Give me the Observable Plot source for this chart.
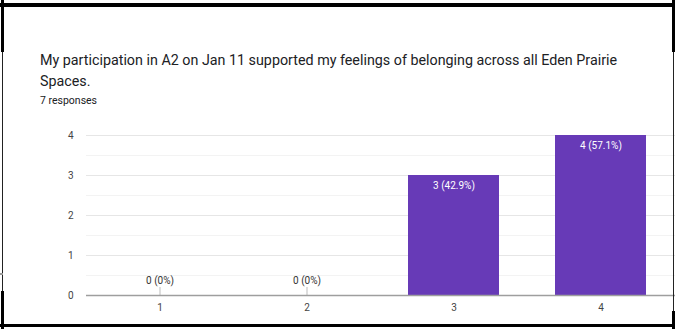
<!DOCTYPE html>
<html>
<head>
<meta charset="utf-8">
<script src="https://cdn.jsdelivr.net/npm/d3@7"></script>
<script src="https://cdn.jsdelivr.net/npm/@observablehq/plot@0.6"></script>
<style>
  html, body { margin: 0; padding: 0; background: #fff; }
  #frame { position: relative; width: 675px; height: 329px; overflow: hidden; background: #fff; font-family: Roboto, "Liberation Sans", sans-serif; }
  .bd { position: absolute; background: #000; }
  #title { position: absolute; left: 40px; top: 50px; width: 610px; font-size: 14.3px; line-height: 21px; color: #202124; }
  #sub { position: absolute; left: 40px; top: 94px; font-size: 10.5px; color: #202124; }
  #chart { position: absolute; left: 0; top: 120px; }
</style>
</head>
<body>
<div id="frame">
  <div id="title"></div>
  <div id="sub"></div>
  <div id="chart"></div>
  <div class="bd" style="left:0;top:3px;width:675px;height:4px"></div>
  <div class="bd" style="left:1px;top:0;width:3px;height:52px"></div>
  <div class="bd" style="left:2px;top:52px;width:1px;height:240px;background:#222"></div>
  <div class="bd" style="left:0;top:273px;width:3px;height:2px;background:#999"></div>
  <div class="bd" style="left:1px;top:291px;width:3px;height:38px"></div>
  <div class="bd" style="left:672px;top:0;width:3px;height:52px"></div>
  <div class="bd" style="left:673px;top:52px;width:1px;height:260px;background:#222"></div>
  <div class="bd" style="left:672px;top:311px;width:3px;height:18px"></div>
  <div class="bd" style="left:0;top:324px;width:675px;height:3px"></div>
</div>
<script>
const titleText = "My participation in A2 on Jan 11 supported my feelings of belonging across all Eden Prairie Spaces.";
const subtitleText = "7 responses";
const categories = ["1", "2", "3", "4"];
const counts = [0, 0, 3, 4];
const yTicks = [0, 1, 2, 3, 4];
const minorTicks = [0.5, 1.5, 2.5, 3.5];

document.getElementById("title").textContent = titleText;
document.getElementById("sub").textContent = subtitleText;

const total = d3.sum(counts);
const data = categories.map((c, i) => ({
  cat: c,
  n: counts[i],
  label: `${counts[i]} (${Math.round(counts[i] / total * 1000) / 10}%)`
}));
const zeros = data.filter(d => d.n === 0);
const nonzero = data.filter(d => d.n > 0);

const chart = Plot.plot({
  width: 675,
  height: 209,
  marginTop: 15,
  marginBottom: 34,
  marginLeft: 86,
  marginRight: 0,
  style: { fontFamily: "Roboto, 'Liberation Sans', sans-serif", fontSize: "10px", color: "#444", background: "transparent" },
  x: { domain: categories, paddingInner: 0.38, paddingOuter: 0.19, label: null, tickSize: 0, tickPadding: 8 },
  y: { domain: [0, 4], ticks: yTicks, tickFormat: "d", label: null, tickSize: 0, tickPadding: 13 },
  marks: [
    Plot.gridY(minorTicks, { stroke: "#f3f3f3", strokeOpacity: 1 }),
    Plot.gridY(yTicks.filter(d => d > 0), { stroke: "#e6e6e6", strokeOpacity: 1 }),
    Plot.barY(nonzero, { x: "cat", y: "n", fill: "#673ab7" }),
    Plot.ruleX(zeros, { x: "cat", y1: 0, y2: 0, insetTop: -8, stroke: "#bdbdbd" }),
    Plot.ruleY([0], { stroke: "#9e9e9e", strokeWidth: 1.5 }),
    Plot.text(nonzero, { x: "cat", y: "n", text: "label", dy: 10, fill: "#fff", fontSize: 10 }),
    Plot.text(zeros, { x: "cat", y: "n", text: "label", dy: -15, fill: "#333", fontSize: 10 })
  ]
});
document.getElementById("chart").appendChild(chart);
</script>
</body>
</html>
